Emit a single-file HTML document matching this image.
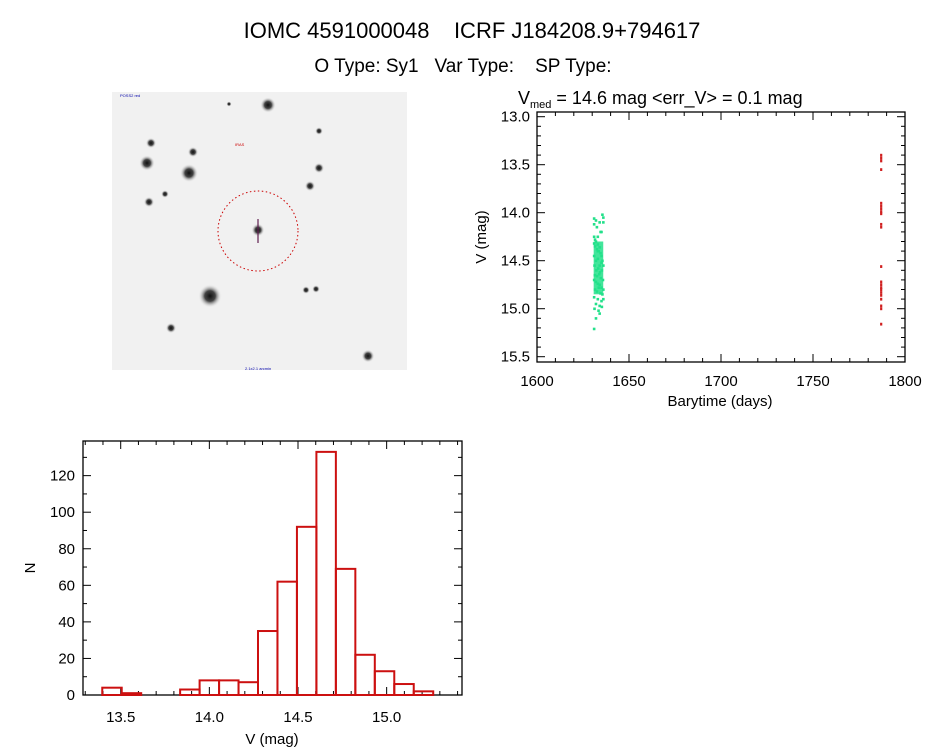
<!DOCTYPE html>
<html><head><meta charset="utf-8"><style>
body{margin:0;background:#fff;width:944px;height:747px;overflow:hidden}
svg text{font-family:"Liberation Sans","DejaVu Sans",sans-serif;fill:#000}
</style></head><body>
<svg id="s" width="944" height="747" viewBox="0 0 944 747">
<text x="472" y="38" text-anchor="middle" font-size="22" xml:space="preserve">IOMC 4591000048    ICRF J184208.9+794617</text>
<text x="463" y="72" text-anchor="middle" font-size="19" xml:space="preserve">O Type: Sy1   Var Type:    SP Type:</text>
<g>
<rect x="112" y="92" width="295" height="278" fill="#f1f1f1"/>
<defs><radialGradient id="st"><stop offset="0" stop-color="#111"/><stop offset="0.45" stop-color="#444"/><stop offset="1" stop-color="#f1f1f1" stop-opacity="0"/></radialGradient></defs>
<g id="stars"></g>
<circle cx="258" cy="231" r="40" fill="none" stroke="#c00" stroke-width="1" stroke-dasharray="1.5,2.5"/>
<line x1="258" y1="219" x2="258" y2="243" stroke="#602050" stroke-width="1.2"/>
<text x="120" y="97" font-size="4" style="fill:#00a">POSS2 red</text>
<text x="235" y="146" font-size="4" style="fill:#c00">IRAS</text>
<text x="245" y="370" font-size="4" style="fill:#00a">2.1x2.1 arcmin</text>
</g>
<g id="lc"></g>
<g id="hist"></g>
</svg>
<script>
// ---------- data ----------
const starList=[[268,105,6],[151,143,4],[147,163,6],[189,173,7],[193,152,4],[319,168,4],[310,186,4],[149,202,4],[165,194,3],[258,230,5],[210,296,9],[171,328,4],[368,356,5],[319,131,3],[229,104,2],[306,290,3],[316,289,3]];
const greenT=[1631,1631.5,1632,1632.5,1633,1633.5,1634,1634.5,1635,1635.5,1631,1632,1633,1634,1635,1636,1631.2,1632.2,1633.2,1634.2,1635.2,1631.4,1632.6,1633.8,1634.6,1635.8,1631,1632,1633,1634,1635,1636,1631.5,1632.5,1633.5,1634.5,1635.5,1631,1633,1635,1632,1634,1636,1631,1634,1631,1632.5,1635,1631,1631.5,1633,1634.5,1635.5,1632,1636,1631.2,1633.4,1635.2,1634,1636,1632,1631,1633];
const greenV=[14.32,14.35,14.3,14.38,14.33,14.4,14.36,14.42,14.45,14.5,14.45,14.5,14.48,14.55,14.52,14.55,14.55,14.6,14.58,14.62,14.6,14.65,14.66,14.64,14.68,14.7,14.7,14.72,14.74,14.75,14.78,14.8,14.8,14.82,14.78,14.84,14.85,14.88,14.9,14.92,14.95,14.97,14.05,14.06,14.1,14.12,14.15,14.2,14.25,14.28,14.25,14.2,14.02,14.08,14.1,15.0,15.02,14.98,15.05,14.9,15.1,15.21,14.4];
const redT=[1787,1787,1787,1787,1787,1787,1787,1787,1787,1787,1787,1787,1787,1787,1787,1787,1787,1787,1787,1787,1787,1787];
const redV=[13.4,13.43,13.46,13.55,13.9,13.93,13.96,13.99,14.01,14.12,14.15,14.56,14.72,14.75,14.78,14.8,14.83,14.86,14.9,14.97,15.0,15.16];
const histStart=13.396, histWidth=0.1098;
const histCounts=[4,1,0,0,3,8,8,7,35,62,92,133,69,22,13,6,2];
const lcXTicks=[1600,1650,1700,1750,1800];
const lcYTicks=[13.0,13.5,14.0,14.5,15.0,15.5];
const hXTicks=[13.5,14.0,14.5,15.0];
const hYTicks=[0,20,40,60,80,100,120];
// ---------- helpers ----------
const NS="http://www.w3.org/2000/svg";
function mk(p,tag,a){const e=document.createElementNS(NS,tag);for(const k in a)e.setAttribute(k,a[k]);p.appendChild(e);return e;}
const S=document.getElementById('stars');
starList.forEach(s=>{const c=mk(S,'circle',{cx:s[0],cy:s[1],r:s[2]*1.3,fill:'url(#st)'});

});
// ---------- light curve ----------
const L=document.getElementById('lc');
const lx0=537,lx1=905,ly0=112,ly1=362;
const lxS=v=>lx0+(v-1600)/200*(lx1-lx0);
const lyS=v=>116.7+(v-13.0)*96;
mk(L,'rect',{x:lx0,y:ly0,width:lx1-lx0,height:ly1-ly0,fill:'none',stroke:'#000','stroke-width':1.3});
for(let v=1600;v<=1800;v+=10){const x=lxS(v),big=v%50===0?8:4;
mk(L,'line',{x1:x,y1:ly1,x2:x,y2:ly1-big,stroke:'#000'});mk(L,'line',{x1:x,y1:ly0,x2:x,y2:ly0+big,stroke:'#000'});}
for(let v=13.0;v<=15.5001;v+=0.1){const y=lyS(v),big=Math.abs(v*2-Math.round(v*2))<0.01?8:4;
mk(L,'line',{x1:lx0,y1:y,x2:lx0+big,y2:y,stroke:'#000'});mk(L,'line',{x1:lx1,y1:y,x2:lx1-big,y2:y,stroke:'#000'});}
lcXTicks.forEach(v=>{const t=mk(L,'text',{x:lxS(v),y:386,'text-anchor':'middle','font-size':15});t.textContent=v;

});
lcYTicks.forEach(v=>{const t=mk(L,'text',{x:530,y:lyS(v)+5,'text-anchor':'end','font-size':15});t.textContent=v.toFixed(1);

});
let t=mk(L,'text',{x:720,y:406,'text-anchor':'middle','font-size':15});t.textContent='Barytime (days)';


t=mk(L,'text',{x:0,y:0,'text-anchor':'middle','font-size':15,transform:'translate(486,237) rotate(-90)'});t.textContent='V (mag)';


t=mk(L,'text',{x:518,y:104,'font-size':18,'xml:space':'preserve'});t.innerHTML='V<tspan font-size="11" dy="4">med</tspan><tspan dy="-4">  =  14.6  mag  &lt;err_V&gt;  =  0.1  mag</tspan>';


greenT.forEach((d,i)=>{const r=mk(L,'rect',{x:lxS(d)-1.2,y:lyS(greenV[i])-1.2,width:2.6,height:2.6,fill:'#22e08a'});

});
mk(L,'rect',{x:lxS(1630.8),y:lyS(14.3),width:lxS(1636)-lxS(1630.8),height:lyS(14.85)-lyS(14.3),fill:'#22e08a',opacity:0.85});
redT.forEach((d,i)=>{const r=mk(L,'rect',{x:lxS(d)-1,y:lyS(redV[i])-1.3,width:2.2,height:2.8,fill:'#d02020'});

});
// ---------- histogram ----------
const H=document.getElementById('hist');
const hx0=83,hx1=462,hy0=441,hy1=695;
const hxS=v=>120.7+(v-13.5)*177.3;
const hyS=v=>695-v*1.828;
mk(H,'rect',{x:hx0,y:hy0,width:hx1-hx0,height:hy1-hy0,fill:'none',stroke:'#000','stroke-width':1.3});
for(let v=13.3;v<=15.42;v+=0.1){const x=hxS(v),big=Math.abs(v*2-Math.round(v*2))<0.01?8:4;
mk(H,'line',{x1:x,y1:hy1,x2:x,y2:hy1-big,stroke:'#000'});mk(H,'line',{x1:x,y1:hy0,x2:x,y2:hy0+big,stroke:'#000'});}
for(let v=0;v<=130;v+=10){const y=hyS(v),big=v%20===0?8:4;
mk(H,'line',{x1:hx0,y1:y,x2:hx0+big,y2:y,stroke:'#000'});mk(H,'line',{x1:hx1,y1:y,x2:hx1-big,y2:y,stroke:'#000'});}
hXTicks.forEach(v=>{const t=mk(H,'text',{x:hxS(v),y:722,'text-anchor':'middle','font-size':15});t.textContent=v.toFixed(1);

});
hYTicks.forEach(v=>{const t=mk(H,'text',{x:75,y:hyS(v)+5,'text-anchor':'end','font-size':15});t.textContent=v;

});
t=mk(H,'text',{x:272,y:744,'text-anchor':'middle','font-size':15});t.textContent='V (mag)';


t=mk(H,'text',{x:0,y:0,'text-anchor':'middle','font-size':15,transform:'translate(35,568) rotate(-90)'});t.textContent='N';


histCounts.forEach((c,i)=>{const a=histStart+i*histWidth,b=a+histWidth;
const r=mk(H,'rect',{x:hxS(a),y:hyS(c),width:hxS(b)-hxS(a),height:hyS(0)-hyS(c),fill:'none',stroke:'#cc1010','stroke-width':2});

});
</script>
</body></html>
